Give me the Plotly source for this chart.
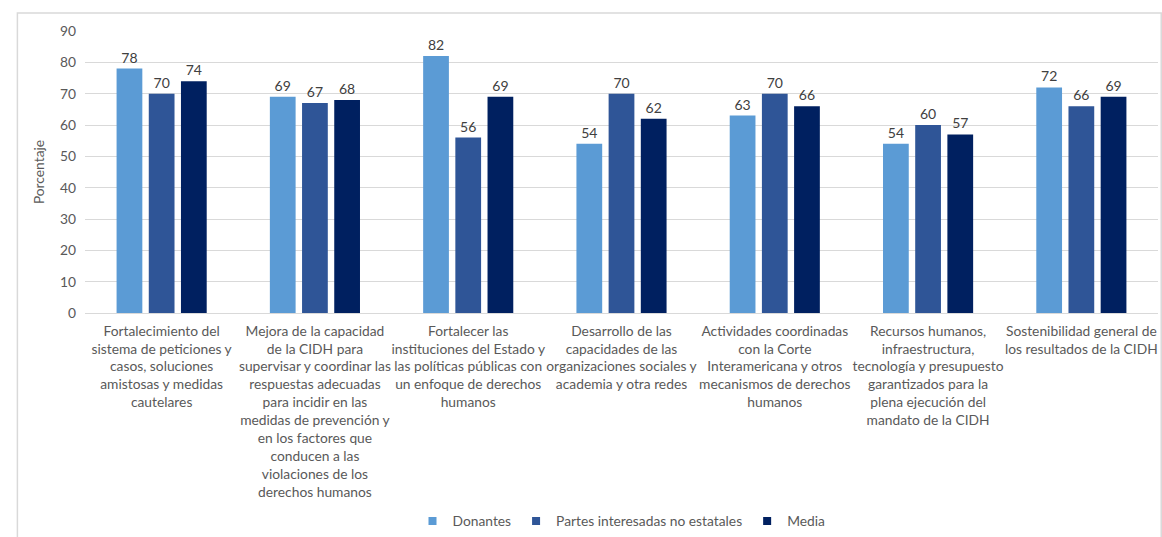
import plotly.graph_objects as go

categories = [
    "Fortalecimiento del<br>sistema de peticiones y<br>casos, soluciones<br>amistosas y medidas<br>cautelares",
    "Mejora de la capacidad<br>de la CIDH para<br>supervisar y coordinar las<br>respuestas adecuadas<br>para incidir en las<br>medidas de prevención y<br>en los factores que<br>conducen a las<br>violaciones de los<br>derechos humanos",
    "Fortalecer las<br>instituciones del Estado y<br>las políticas públicas con<br>un enfoque de derechos<br>humanos",
    "Desarrollo de las<br>capacidades de las<br>organizaciones sociales y<br>academia y otra redes",
    "Actividades coordinadas<br>con la Corte<br>Interamericana y otros<br>mecanismos de derechos<br>humanos",
    "Recursos humanos,<br>infraestructura,<br>tecnología y presupuesto<br>garantizados para la<br>plena ejecución del<br>mandato de la CIDH",
    "Sostenibilidad general de<br>los resultados de la CIDH",
]

donantes = [78, 69, 82, 54, 63, 54, 72]
partes_no_estatales = [70, 67, 56, 70, 70, 60, 66]
media = [74, 68, 69, 62, 66, 57, 69]

series = [
    ("Donantes", donantes, "#5B9BD5"),
    ("Partes interesadas no estatales", partes_no_estatales, "#2F5597"),
    ("Media", media, "#002060"),
]

FONT = "Lato, 'Open Sans', sans-serif"
TEXT = "#595959"

fig = go.Figure()
for name, vals, color in series:
    fig.add_trace(go.Bar(
        name=name,
        x=categories,
        y=vals,
        marker=dict(color=color, line=dict(width=0)),
        text=[str(v) for v in vals],
        textposition="outside",
        textfont=dict(family=FONT, size=14, color="#404040"),
        cliponaxis=False,
        showlegend=False,
    ))

# compact square legend keys
for name, _, color in series:
    fig.add_trace(go.Scatter(
        name=name,
        x=[None], y=[None],
        mode="markers",
        marker=dict(symbol="square", size=8, color=color),
        showlegend=True,
    ))

fig.update_layout(
    width=1162,
    height=537,
    margin=dict(l=85, r=4, t=31, b=224, autoexpand=False),
    paper_bgcolor="white",
    plot_bgcolor="white",
    barmode="group",
    bargap=0.37,
    bargroupgap=0.2,
    font=dict(family=FONT, size=13.8, color=TEXT),
    showlegend=True,
    legend=dict(
        orientation="h",
        x=0.5, xanchor="center",
        y=-0.738, yanchor="middle",
        font=dict(family=FONT, size=13.8, color=TEXT),
        itemwidth=30,
        traceorder="normal",
    ),
    xaxis=dict(
        tickfont=dict(family=FONT, size=13.8, color=TEXT),
        showline=True, linecolor="#D9D9D9", linewidth=1,
        ticks="", tickangle=0,
        ticklabelstandoff=5,
        automargin=False,
    ),
    yaxis=dict(
        range=[0, 90],
        dtick=10,
        tickfont=dict(family=FONT, size=13.8, color=TEXT),
        showgrid=True, gridcolor="#D9D9D9", gridwidth=1,
        zeroline=False,
        ticks="", ticklen=0,
        ticklabelstandoff=8,
        automargin=False,
        title=dict(text="Porcentaje", font=dict(family=FONT, size=13.8, color=TEXT), standoff=12),
    ),
    shapes=[dict(
        type="rect", xref="paper", yref="paper",
        x0=-0.063, x1=1.003, y0=-1.1, y1=1.064,
        line=dict(color="#D9D9D9", width=1.5),
        fillcolor="rgba(0,0,0,0)",
        layer="below",
    )],
)

fig.write_html("out.html")
